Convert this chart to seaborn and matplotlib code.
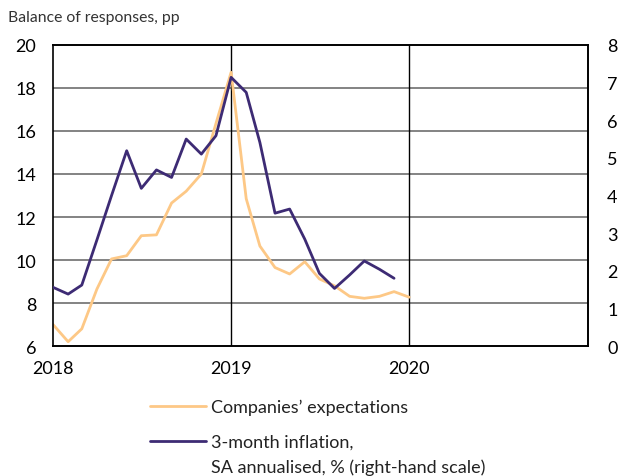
import pandas as pd
import matplotlib
matplotlib.use("Agg")
import matplotlib.pyplot as plt
import seaborn as sns

# ---------------------------------------------------------------------------
# Data (monthly)
# ---------------------------------------------------------------------------

expect_months = pd.date_range("2018-01-01", "2020-01-01", freq="MS")
companies_expectations = [
    7.0, 6.2, 6.8, 8.65, 10.05, 10.2, 11.13, 11.17, 12.65, 13.2, 14.0, 16.35,
    18.73, 12.85, 10.65, 9.65, 9.35, 9.92, 9.12, 8.8, 8.31, 8.22, 8.31, 8.53,
    8.27,
]

infl_months = pd.date_range("2018-01-01", "2019-12-01", freq="MS")
inflation_3m = [
    1.56, 1.38, 1.62, 2.82, 4.0, 5.19, 4.19, 4.68, 4.48, 5.5, 5.1, 5.59,
    7.14, 6.74, 5.41, 3.53, 3.64, 2.84, 1.93, 1.53, 1.89, 2.26, 2.04, 1.8,
]

year_ticks = pd.to_datetime(["2018-01-01", "2019-01-01", "2020-01-01"])
year_labels = ["2018", "2019", "2020"]

ORANGE = "#FDC886"
PURPLE = "#3D2B74"

sns.set_theme(style="white")
plt.rcParams["font.family"] = ["Lato", "DejaVu Sans"]

fig = plt.figure(figsize=(6.2, 4.77), dpi=100)
ax = fig.add_axes([0.0855, 0.2725, 0.8625, 0.6311])
ax2 = ax.twinx()

df_exp = pd.DataFrame({"date": expect_months, "value": companies_expectations})
df_inf = pd.DataFrame({"date": infl_months, "value": inflation_3m})

sns.lineplot(data=df_exp, x="date", y="value", ax=ax, color=ORANGE,
             linewidth=2.0, label="Companies\u2019 expectations", legend=False)
sns.lineplot(data=df_inf, x="date", y="value", ax=ax2, color=PURPLE,
             linewidth=2.0, label="3-month inflation,", legend=False)

ax.set_xlim(pd.Timestamp("2018-01-01"), pd.Timestamp("2021-01-01"))
ax.set_ylim(6, 20)
ax.set_yticks(range(6, 21, 2))
ax2.set_ylim(0, 8)
ax2.set_yticks(range(0, 9))

ax.set_xticks(year_ticks)
ax.set_xticklabels(year_labels)
ax.set_xlabel("")
ax.set_ylabel("")
ax2.set_ylabel("")

# grid: grey horizontals, black year separators
for v in range(8, 20, 2):
    ax.axhline(v, color="#7a7a7a", linewidth=1.3, zorder=0)
for d in year_ticks[1:]:
    ax.axvline(d, color="black", linewidth=1.0, zorder=0)

for a in (ax, ax2):
    for s in a.spines.values():
        s.set_color("black")
        s.set_linewidth(1.2)
ax2.spines["left"].set_visible(False)

ax.tick_params(axis="y", length=0, pad=12, labelsize=13, colors="black")
ax.tick_params(axis="x", length=0, pad=10, labelsize=13, colors="black")
ax2.tick_params(axis="y", length=0, pad=14, labelsize=13, colors="black")

fig.text(0.013, 0.962, "Balance of responses, pp", fontsize=11.3,
         color="#333333", ha="left", va="center")

h1, l1 = ax.get_legend_handles_labels()
h2, l2 = ax2.get_legend_handles_labels()
leg = fig.legend(h1 + h2, l1 + l2, loc="upper left",
                 bbox_to_anchor=(0.242, 0.162), borderaxespad=0, borderpad=0,
                 frameon=False, fontsize=13, handlelength=3.1,
                 handletextpad=0.3, labelspacing=1.05)
for t in leg.get_texts():
    t.set_color("#222222")

# second line of the inflation label sits under the first one
fig.canvas.draw()
bb = leg.get_texts()[1].get_window_extent()
fig.text(bb.x0 / fig.bbox.width, (bb.y0 - 25) / fig.bbox.height,
         "SA annualised, % (right-hand scale)", fontsize=13,
         color="#222222", ha="left", va="bottom")

fig.savefig("out.png", dpi=100)
